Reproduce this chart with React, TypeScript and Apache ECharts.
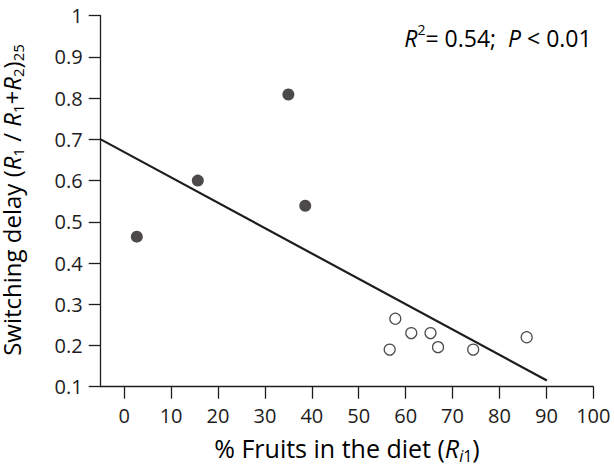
import React, { useEffect, useRef } from "react";
import * as echarts from "echarts";

// Animals with fruit-poor diets (filled markers): [% fruits, switching delay]
const filledPoints: [number, number][] = [
  [2.7, 0.464],
  [15.7, 0.6],
  [35.0, 0.809],
  [38.6, 0.539],
];

// Animals with fruit-rich diets (open markers)
const openPoints: [number, number][] = [
  [56.6, 0.19],
  [57.8, 0.265],
  [61.2, 0.23],
  [65.3, 0.23],
  [66.9, 0.196],
  [74.4, 0.19],
  [85.8, 0.22],
];

// Fitted regression line end points
const regressionLine: [number, number][] = [
  [-5, 0.7],
  [90.1, 0.115],
];

const xTicks = [0, 10, 20, 30, 40, 50, 60, 70, 80, 90, 100];
const yTicks = [0.1, 0.2, 0.3, 0.4, 0.5, 0.6, 0.7, 0.8, 0.9, 1];

const INK = "#1e1c1d";
const FONT = "Open Sans";

// Rich-text styles: normal, italic, subscript, italic subscript, superscript
function richSet(size: number, lineHeight: number, subSize: number) {
  const base = { fontFamily: FONT, color: INK, fontSize: size, lineHeight };
  const sub = {
    fontFamily: FONT,
    color: INK,
    fontSize: subSize,
    lineHeight: subSize,
    verticalAlign: "bottom",
  };
  return {
    n: base,
    i: { ...base, fontStyle: "italic" },
    s: sub,
    si: { ...sub, fontStyle: "italic" },
    p: { ...sub, verticalAlign: "top" },
  };
}

export default function App() {
  const ref = useRef<HTMLDivElement>(null);

  useEffect(() => {
    if (!ref.current) return;
    const chart = echarts.init(ref.current, null, { renderer: "svg" });

    chart.setOption({
      animation: false,
      backgroundColor: "#ffffff",
      grid: {
        left: 100.7,
        right: 20.7,
        top: 15.7,
        bottom: 79.3,
        containLabel: false,
        outerBoundsMode: "none",
      },
      xAxis: {
        type: "value",
        min: -5,
        max: 100,
        axisLine: { onZero: false, lineStyle: { color: INK, width: 1.3 } },
        axisTick: {
          length: 12,
          customValues: xTicks,
          lineStyle: { color: INK, width: 1.3 },
        },
        axisLabel: {
          customValues: xTicks,
          margin: 19,
          fontFamily: FONT,
          fontSize: 20,
          color: INK,
        },
        splitLine: { show: false },
      },
      yAxis: {
        type: "value",
        min: 0.1,
        max: 1,
        axisLine: { onZero: false, lineStyle: { color: INK, width: 1.3 } },
        axisTick: {
          length: 12,
          customValues: yTicks,
          lineStyle: { color: INK, width: 1.3 },
        },
        axisLabel: {
          customValues: yTicks,
          margin: 18,
          fontFamily: FONT,
          fontSize: 20,
          color: INK,
          formatter: (v: number) => (Math.abs(v - 1) < 1e-9 ? "1" : v.toFixed(1)),
        },
        splitLine: { show: false },
      },
      series: [
        {
          type: "line",
          data: regressionLine,
          symbol: "none",
          lineStyle: { color: INK, width: 2.2 },
          z: 1,
        },
        {
          type: "scatter",
          data: filledPoints,
          symbol: "circle",
          symbolSize: 12,
          itemStyle: { color: INK },
          z: 3,
        },
        {
          type: "scatter",
          data: openPoints,
          symbol: "circle",
          symbolSize: 11,
          itemStyle: { color: "#ffffff", borderColor: INK, borderWidth: 1.2 },
          z: 3,
        },
      ],
      graphic: [
        {
          type: "text",
          x: 347,
          y: 448,
          style: {
            text: "{n|% Fruits in the diet (}{i|R}{si|i}{s|1}{n|)}",
            rich: richSet(25, 31, 16),
            align: "center",
            verticalAlign: "middle",
          },
        },
        {
          type: "text",
          x: 11,
          y: 200,
          rotation: Math.PI / 2,
          style: {
            text: "{n|Switching delay (}{i|R}{s|1}{n| / }{i|R}{s|1}{n|+}{i|R}{s|2}{n|)}{s|25}",
            rich: richSet(24, 29, 15),
            align: "center",
            verticalAlign: "middle",
          },
        },
        {
          type: "text",
          x: 498,
          y: 38,
          style: {
            text: "{i|R}{p|2}{n|= 0.54;  }{i|P}{n| < 0.01}",
            rich: richSet(23, 31, 14),
            align: "center",
            verticalAlign: "middle",
          },
        },
      ],
    });

    return () => chart.dispose();
  }, []);

  return (
    <div
      ref={ref}
      style={{ position: "fixed", left: 0, top: 0, width: 614, height: 466, background: "#fff" }}
    />
  );
}
